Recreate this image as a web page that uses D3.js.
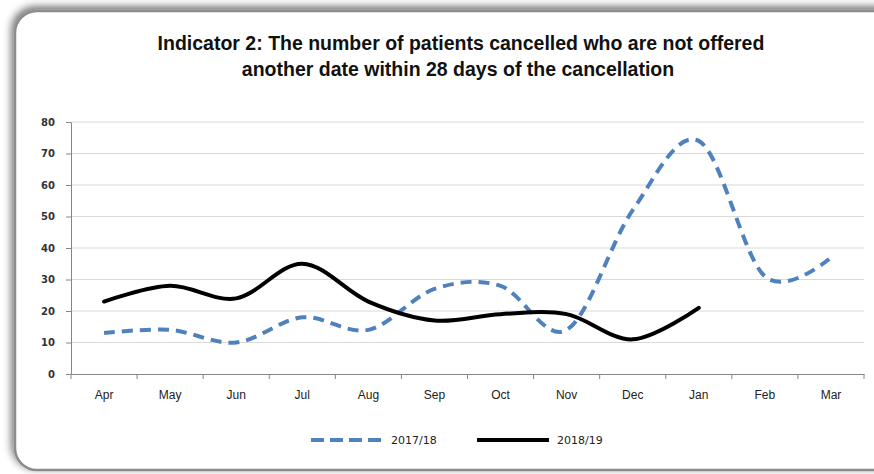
<!DOCTYPE html>
<html>
<head>
<meta charset="utf-8">
<script src="https://cdn.jsdelivr.net/npm/d3@7"></script>
<style>
  body { margin: 0; background: #fff; }
  svg { display: block; }
</style>
</head>
<body>
<div id="vis"></div>
<script>
const months = ["Apr", "May", "Jun", "Jul", "Aug", "Sep", "Oct", "Nov", "Dec", "Jan", "Feb", "Mar"];
const y1718 = [13, 14, 10, 18, 14, 27, 28, 14, 52, 74, 31, 37];
const y1819 = [23, 28, 24, 35, 23, 17, 19, 19, 11, 21];
const yTicks = [0, 10, 20, 30, 40, 50, 60, 70, 80];

const W = 874, H = 474;
const margin = { top: 122, right: 10, bottom: 100, left: 71 };
const width = 864 - margin.left;
const height = 374 - margin.top;

const svg = d3.select("#vis").append("svg")
  .attr("width", W).attr("height", H);

// outer shadow + frame
const defs = svg.append("defs");
const f = defs.append("filter").attr("id", "sh")
  .attr("x", "-10%").attr("y", "-10%").attr("width", "120%").attr("height", "120%");
f.append("feGaussianBlur").attr("in", "SourceAlpha").attr("stdDeviation", 4).attr("result", "b");
f.append("feOffset").attr("in", "b").attr("dx", -2).attr("dy", -3).attr("result", "o");
f.append("feComponentTransfer").attr("in", "o").attr("result", "o2")
  .append("feFuncA").attr("type", "linear").attr("slope", 0.6);
const m = f.append("feMerge");
m.append("feMergeNode").attr("in", "o2");
m.append("feMergeNode").attr("in", "SourceGraphic");

svg.append("rect")
  .attr("x", 15).attr("y", 11).attr("width", 900).attr("height", 459)
  .attr("rx", 22).attr("ry", 22)
  .attr("fill", "#fff").attr("stroke", "#8c8c8c").attr("stroke-width", 2.5)
  .attr("filter", "url(#sh)");

// title
const title = svg.append("text")
  .attr("text-anchor", "middle")
  .style("font-family", "'Liberation Sans', Arial, sans-serif")
  .style("font-weight", "bold")
  .style("font-size", "19.5px")
  .attr("fill", "#111");
title.append("tspan").attr("x", 461).attr("y", 50)
  .text("Indicator 2: The number of patients cancelled who are not offered");
title.append("tspan").attr("x", 458).attr("y", 76)
  .text("another date within 28  days of the cancellation");

const g = svg.append("g").attr("transform", `translate(${margin.left},${margin.top})`);

const x = d3.scaleBand().domain(months).range([0, width]);
const y = d3.scaleLinear().domain([0, 80]).range([height, 0]);

// gridlines
g.selectAll(".grid").data(yTicks.slice(1)).join("line")
  .attr("class", "grid")
  .attr("x1", 0).attr("x2", width)
  .attr("y1", d => y(d)).attr("y2", d => y(d))
  .attr("stroke", "#d9d9d9").attr("stroke-width", 1);

// y axis
const yAxis = g.append("g").call(d3.axisLeft(y).tickValues(yTicks).tickSize(5).tickSizeOuter(0));
yAxis.select(".domain").attr("stroke", "#868686");
yAxis.selectAll(".tick line").attr("stroke", "#868686");
yAxis.selectAll("text")
  .style("font-family", "'DejaVu Sans', sans-serif")
  .style("font-size", "10px").style("font-weight", "bold")
  .attr("fill", "#333").attr("x", -16);

// x axis, ticks at category boundaries
const xAxis = g.append("g").attr("transform", `translate(0,${height})`)
  .call(d3.axisBottom(x).tickSize(0).tickPadding(16));
xAxis.select(".domain").attr("stroke", "#868686");
xAxis.selectAll("text")
  .style("font-family", "'Liberation Sans', sans-serif")
  .style("font-size", "12px").attr("fill", "#222");
g.append("g").selectAll("line").data(months.concat(["end"])).join("line")
  .attr("x1", (d, i) => i * x.bandwidth()).attr("x2", (d, i) => i * x.bandwidth())
  .attr("y1", height).attr("y2", height + 5)
  .attr("stroke", "#868686");

const line = d3.line()
  .x((d, i) => x(months[i]) + x.bandwidth() / 2)
  .y(d => y(d))
  .curve(d3.curveCardinal.tension(0));

g.append("path").datum(y1718)
  .attr("d", line).attr("fill", "none")
  .attr("stroke", "#4f81bd").attr("stroke-width", 4)
  .attr("stroke-dasharray", "11,7");

g.append("path").datum(y1819)
  .attr("d", line).attr("fill", "none")
  .attr("stroke", "#000").attr("stroke-width", 4)
  .attr("stroke-linecap", "round");

// legend
const series = [
  { name: "2017/18", color: "#4f81bd", dash: "13,6", x: 311 },
  { name: "2018/19", color: "#000", dash: null, x: 477 },
];
const leg = svg.append("g");
series.forEach(s => {
  leg.append("line")
    .attr("x1", s.x).attr("x2", s.x + 72).attr("y1", 440).attr("y2", 440)
    .attr("stroke", s.color).attr("stroke-width", 4)
    .attr("stroke-dasharray", s.dash);
  leg.append("text")
    .attr("x", s.x + 80).attr("y", 444)
    .style("font-family", "'DejaVu Sans', sans-serif")
    .style("font-size", "11px").attr("fill", "#222")
    .text(s.name);
});
</script>
</body>
</html>
